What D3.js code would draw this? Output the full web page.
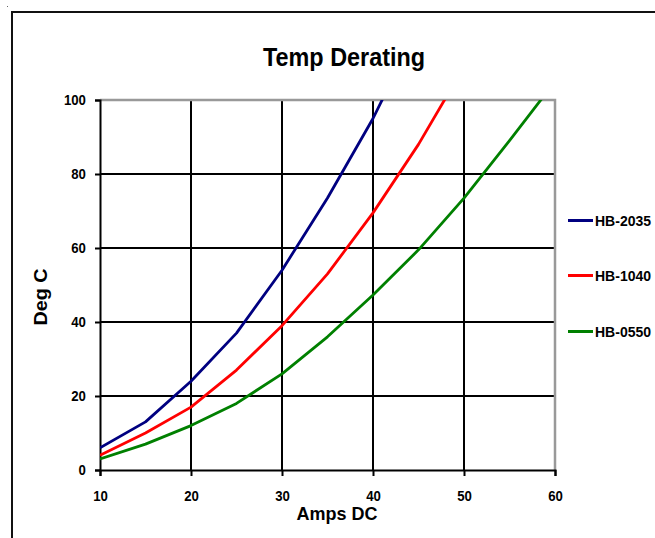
<!DOCTYPE html>
<html>
<head>
<meta charset="utf-8">
<script src="https://cdn.jsdelivr.net/npm/d3@7"></script>
<style>
  html, body { margin: 0; padding: 0; background: #fff; }
  svg { display: block; font-family: "Liberation Sans", Arial, sans-serif; }
</style>
</head>
<body>
<svg id="chart" width="655" height="538"></svg>
<script>
const amps = [10, 15, 20, 25, 30, 35, 40, 45, 50, 55, 60];
const hb2035 = [6, 13, 24, 37, 54, 73.5, 95, 120, null, null, null];
const hb1040 = [4, 10, 17, 27, 39, 53, 69.5, 88, 109, null, null];
const hb0550 = [3, 7, 12, 18, 26, 36, 47.3, 59.5, 73.5, 89, 105];
const seriesNames = ["HB-2035", "HB-1040", "HB-0550"];
const seriesColors = ["#000080", "#FF0000", "#008000"];
const xTicks = [10, 20, 30, 40, 50, 60];
const yTicks = [0, 20, 40, 60, 80, 100];
const title = "Temp Derating";
const xTitle = "Amps DC";
const yTitle = "Deg C";

const series = [hb2035, hb1040, hb0550].map((vals, i) => ({
  name: seriesNames[i], color: seriesColors[i],
  points: amps.map((a, j) => ({ x: a, y: vals[j] })).filter(p => p.y !== null)
}));

const svg = d3.select("#chart");
const plot = { left: 100, top: 100, right: 555, bottom: 470 };

const x = d3.scaleLinear().domain([10, 60]).range([plot.left, plot.right]);
const y = d3.scaleLinear().domain([0, 100]).range([plot.bottom, plot.top]);

// outer frame
svg.append("rect").attr("x", 12).attr("y", 12).attr("width", 720).attr("height", 620)
  .attr("fill", "none").attr("stroke", "#111").attr("stroke-width", 2);
svg.append("rect").attr("x", 7).attr("y", 6).attr("width", 1).attr("height", 1).attr("fill", "#666");

// clip
svg.append("defs").append("clipPath").attr("id", "clip")
  .append("rect").attr("x", plot.left).attr("y", plot.top)
  .attr("width", plot.right - plot.left).attr("height", plot.bottom - plot.top);

// grid lines
const grid = svg.append("g");
grid.selectAll(".vg").data(xTicks.filter(t => t > 10 && t < 60)).join("line")
  .attr("x1", d => x(d)).attr("x2", d => x(d))
  .attr("y1", plot.top).attr("y2", plot.bottom)
  .attr("stroke", "#000").attr("stroke-width", 2);
grid.selectAll(".hg").data(yTicks.filter(t => t > 0 && t < 100)).join("line")
  .attr("x1", plot.left).attr("x2", plot.right)
  .attr("y1", d => y(d)).attr("y2", d => y(d))
  .attr("stroke", "#000").attr("stroke-width", 2);

// plot border top/right (gray)
svg.append("path")
  .attr("d", `M${plot.left},${plot.top}H${plot.right}V${plot.bottom}`)
  .attr("fill", "none").attr("stroke", "#999").attr("stroke-width", 2.5);

// axes
const xAxis = d3.axisBottom(x).tickValues(xTicks).tickSize(6).tickPadding(14);
const yAxis = d3.axisLeft(y).tickValues(yTicks).tickSize(5).tickPadding(11);

const gx = svg.append("g").attr("transform", `translate(0,${plot.bottom})`).call(xAxis);
const gy = svg.append("g").attr("transform", `translate(${plot.left},0)`).call(yAxis);
[gx, gy].forEach(g => {
  g.attr("font-size", 15).attr("font-family", "'Liberation Sans', Arial, sans-serif").attr("font-weight", "bold");
  g.select(".domain").attr("stroke", "#000").attr("stroke-width", 2);
  g.selectAll(".tick line").attr("stroke", "#000").attr("stroke-width", 2);
  g.selectAll(".tick text").attr("fill", "#000")
    .attr("transform", "scale(0.88,1)");
});

// lines
const line = d3.line().x(d => x(d.x)).y(d => y(d.y)).curve(d3.curveLinear);
svg.append("g").attr("clip-path", "url(#clip)")
  .selectAll("path").data(series).join("path")
  .attr("d", d => line(d.points))
  .attr("fill", "none").attr("stroke", d => d.color).attr("stroke-width", 2.8)
  .attr("stroke-linejoin", "round");

// titles
svg.append("text").attr("x", 344).attr("y", 66).attr("text-anchor", "middle")
  .attr("font-size", 25).attr("font-weight", "bold")
  .attr("textLength", 162).attr("lengthAdjust", "spacingAndGlyphs")
  .text(title);
svg.append("text").attr("x", 337).attr("y", 520).attr("text-anchor", "middle")
  .attr("font-size", 18).attr("font-weight", "bold").text(xTitle);
svg.append("text").attr("transform", "translate(47,297) rotate(-90)").attr("text-anchor", "middle")
  .attr("font-size", 18).attr("font-weight", "bold")
  .attr("textLength", 57).attr("lengthAdjust", "spacingAndGlyphs").text(yTitle);

// legend
const legendY = [220.5, 275.5, 331.5];
const lg = svg.append("g").selectAll("g").data(series).join("g")
  .attr("transform", (d, i) => `translate(568,${legendY[i]})`);
lg.append("line").attr("x1", 0).attr("x2", 25).attr("y1", 0).attr("y2", 0)
  .attr("stroke", d => d.color).attr("stroke-width", 3);
lg.append("text").attr("x", 27).attr("y", 5.5)
  .attr("font-size", 14).attr("font-weight", "bold")
  .text(d => d.name);
</script>
</body>
</html>
